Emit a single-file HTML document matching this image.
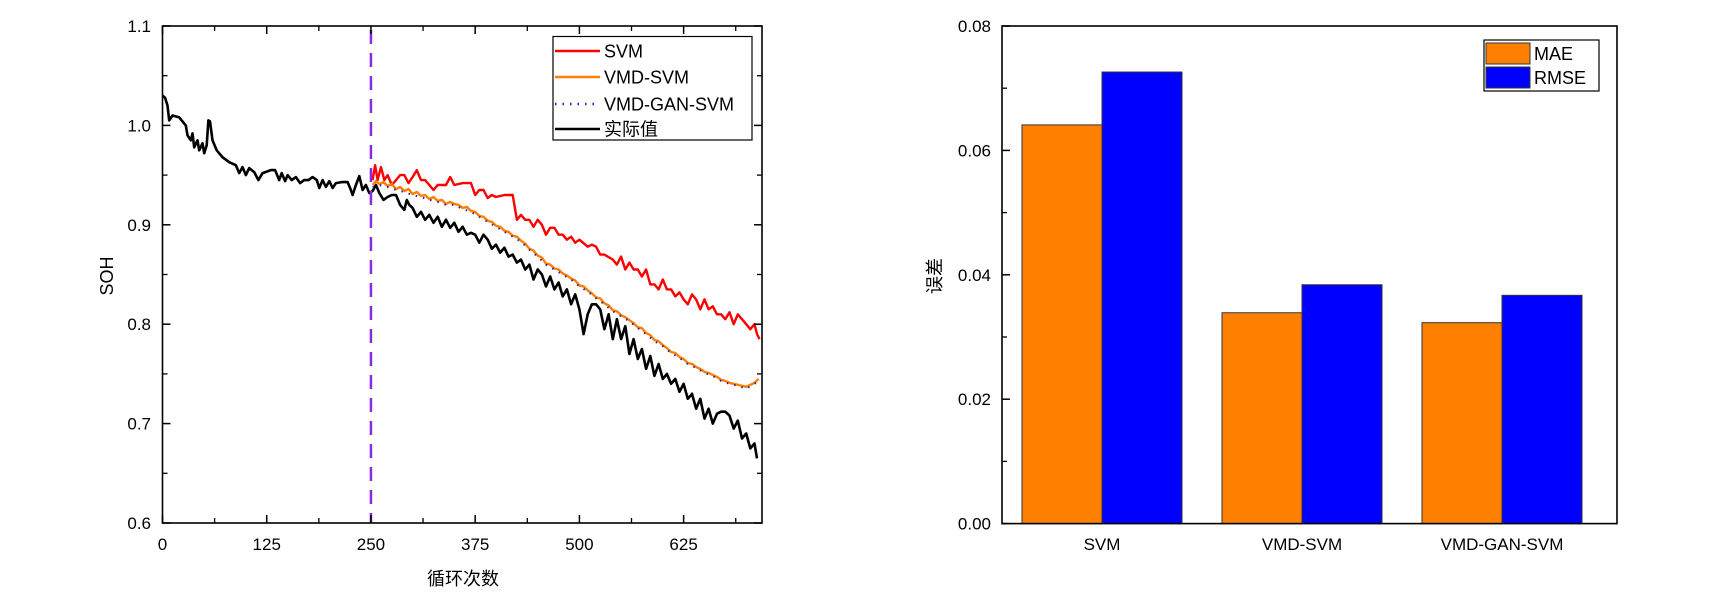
<!DOCTYPE html>
<html><head><meta charset="utf-8"><style>
html,body{margin:0;padding:0;background:#fff;}
svg{display:block;font-family:"Liberation Sans","Noto Sans CJK SC",sans-serif;}
</style></head><body>
<svg id="c" width="1733" height="613" viewBox="0 0 1733 613" xmlns="http://www.w3.org/2000/svg">
<g id="left"></g>
<g id="right"></g>
</svg>
<script>
// ---- left chart data ----
const actualC=[0,3,6,8,12,20,28,30,34,36,38,42,44,48,50,53,55,57,60,65,72,80,88,92,96,100,104,110,115,120,130,135,140,143,147,150,155,160,165,170,175,180,185,188,192,196,200,204,208,215,222,225,228,232,236,240,244,248,252,256,260,265,270,275,280,285,290,293,296,300,305,310,315,320,325,330,335,340,345,350,355,360,365,370,375,380,385,390,395,400,405,410,415,420,425,430,435,440,445,450,455,460,465,470,475,480,485,490,495,500,505,510,515,520,525,530,535,540,545,550,555,560,565,570,575,580,585,590,595,600,605,610,615,620,625,630,635,640,645,650,655,660,665,670,675,680,685,690,695,700,705,710,713];
const actualV=[1.03,1.028,1.02,1.005,1.01,1.008,1.0,0.99,0.985,0.992,0.978,0.985,0.975,0.982,0.972,0.98,1.005,1.004,0.985,0.975,0.968,0.963,0.96,0.952,0.958,0.95,0.957,0.953,0.945,0.952,0.955,0.955,0.945,0.952,0.944,0.95,0.945,0.948,0.942,0.945,0.945,0.948,0.945,0.937,0.945,0.938,0.944,0.937,0.942,0.943,0.943,0.937,0.93,0.94,0.949,0.935,0.94,0.932,0.934,0.94,0.932,0.925,0.928,0.93,0.93,0.92,0.915,0.925,0.92,0.917,0.908,0.913,0.905,0.91,0.902,0.908,0.898,0.905,0.897,0.902,0.893,0.898,0.89,0.892,0.89,0.882,0.89,0.885,0.876,0.88,0.872,0.877,0.868,0.87,0.862,0.865,0.855,0.86,0.845,0.855,0.85,0.838,0.848,0.835,0.842,0.828,0.835,0.82,0.83,0.815,0.79,0.81,0.82,0.82,0.815,0.795,0.81,0.785,0.805,0.785,0.798,0.77,0.785,0.765,0.775,0.755,0.768,0.748,0.76,0.745,0.75,0.74,0.745,0.732,0.74,0.725,0.73,0.715,0.725,0.705,0.715,0.7,0.71,0.712,0.712,0.708,0.695,0.703,0.685,0.69,0.675,0.68,0.665];
const svmC=[252,255,258,262,266,270,275,280,285,290,295,300,305,310,315,320,325,330,340,345,350,360,370,375,380,385,390,395,400,410,420,425,430,435,440,445,450,455,460,465,470,475,480,485,490,495,500,510,515,520,525,530,540,545,550,555,560,565,570,575,580,585,590,595,600,605,610,615,620,625,630,635,640,645,650,655,660,665,670,675,680,685,690,695,700,705,710,713,716];
const svmV=[0.945,0.96,0.945,0.958,0.945,0.95,0.94,0.945,0.95,0.95,0.942,0.948,0.955,0.945,0.945,0.94,0.935,0.94,0.94,0.948,0.94,0.942,0.942,0.93,0.935,0.935,0.927,0.93,0.928,0.93,0.93,0.905,0.91,0.905,0.905,0.898,0.905,0.9,0.89,0.897,0.897,0.89,0.89,0.885,0.888,0.882,0.885,0.878,0.88,0.878,0.87,0.87,0.865,0.86,0.868,0.855,0.862,0.855,0.855,0.848,0.855,0.84,0.84,0.835,0.845,0.835,0.835,0.828,0.832,0.825,0.82,0.83,0.825,0.815,0.825,0.815,0.818,0.81,0.81,0.805,0.812,0.8,0.81,0.805,0.8,0.795,0.8,0.79,0.785];
const vmdC=[252,256,260,265,270,275,280,285,290,295,300,305,310,315,320,325,330,335,340,345,350,355,360,365,370,375,380,385,390,395,400,405,410,415,420,425,430,435,440,445,450,455,460,465,470,475,480,485,490,495,500,505,510,515,520,525,530,535,540,545,550,555,560,565,570,575,580,585,590,595,600,605,610,615,620,625,630,635,640,645,650,655,660,665,670,675,680,685,690,695,700,705,710,715];
const vmdV=[0.94,0.944,0.941,0.943,0.939,0.941,0.936,0.938,0.934,0.936,0.931,0.933,0.929,0.93,0.926,0.928,0.924,0.925,0.921,0.923,0.921,0.92,0.917,0.918,0.914,0.913,0.909,0.908,0.904,0.903,0.899,0.898,0.894,0.893,0.889,0.888,0.884,0.881,0.876,0.874,0.869,0.867,0.861,0.86,0.856,0.855,0.851,0.849,0.846,0.844,0.839,0.838,0.834,0.831,0.827,0.826,0.821,0.819,0.814,0.813,0.809,0.807,0.804,0.801,0.797,0.796,0.791,0.789,0.784,0.783,0.779,0.776,0.772,0.771,0.767,0.765,0.761,0.76,0.757,0.755,0.752,0.751,0.749,0.747,0.744,0.743,0.741,0.74,0.739,0.738,0.737,0.739,0.741,0.745];
const ganC=[252,260,270,280,290,300,310,320,330,340,350,360,370,380,390,400,410,420,430,440,450,460,470,480,490,500,510,520,530,540,550,560,570,580,590,600,610,620,630,640,650,660,670,680,690,700,710,715];
const ganV=[0.938,0.94,0.938,0.935,0.933,0.93,0.928,0.925,0.923,0.92,0.92,0.916,0.913,0.908,0.903,0.898,0.893,0.888,0.883,0.875,0.868,0.86,0.855,0.85,0.845,0.838,0.833,0.826,0.82,0.813,0.808,0.803,0.796,0.79,0.783,0.778,0.771,0.766,0.76,0.756,0.751,0.748,0.743,0.74,0.738,0.735,0.74,0.743];
const xTicksL=[0,125,250,375,500,625];
const yTicksL=[0.6,0.7,0.8,0.9,1.0,1.1];
const splitCycle=250;
// ---- right chart data ----
const categories=["SVM","VMD-SVM","VMD-GAN-SVM"];
const maeV=[0.0641,0.0339,0.0323];
const rmseV=[0.0726,0.0384,0.0367];
const yTicksR=[0.00,0.02,0.04,0.06,0.08];

const NS="http://www.w3.org/2000/svg";
function mk(parent,tag,attrs,text){const e=document.createElementNS(NS,tag);for(const k in attrs)e.setAttribute(k,attrs[k]);if(text!==undefined)e.textContent=text;parent.appendChild(e);return e;}

const L={x0:162.5,x1:762,y0:523,y1:26,cmin:0,cmax:719,vmin:0.6,vmax:1.1};
const lx=c=>L.x0+(c-L.cmin)/(L.cmax-L.cmin)*(L.x1-L.x0);
const ly=v=>L.y0-(v-L.vmin)/(L.vmax-L.vmin)*(L.y0-L.y1);
const gl=document.getElementById('left');
function series(C,V,color,w,dash,name){
  let d="";C.forEach((c,i)=>{d+=(i?"L":"M")+lx(c).toFixed(1)+","+ly(V[i]).toFixed(1);});
  const p=mk(gl,'path',{d:d,fill:'none',stroke:color,'stroke-width':w,'stroke-linejoin':'round'});
  if(dash)p.setAttribute('stroke-dasharray',dash);
  
  
}
series(actualC,actualV,'#000',2.6,null,'actual-line');
series(svmC,svmV,'#ff0000',2.4,null,'svm-line');
series(vmdC,vmdV,'#ff8000',2.4,null,'vmd-svm-line');
series(ganC,ganV,'#2020c0',2,'1.5 6','vmd-gan-svm-line');
const split=mk(gl,'line',{x1:lx(splitCycle),x2:lx(splitCycle),y1:L.y1+4,y2:L.y0,stroke:'#8a2be2','stroke-width':2.5,'stroke-dasharray':'14 9'});


const frameL=mk(gl,'rect',{x:L.x0,y:L.y1,width:L.x1-L.x0,height:L.y0-L.y1,fill:'none',stroke:'#000','stroke-width':1.6});


xTicksL.forEach((t,i)=>{
  const x=lx(t);
  mk(gl,'line',{x1:x,x2:x,y1:L.y0,y2:L.y0-8,stroke:'#000','stroke-width':1.5});
  mk(gl,'line',{x1:x,x2:x,y1:L.y1,y2:L.y1+8,stroke:'#000','stroke-width':1.5});
  const xm=lx(t+62.5);
  if(xm<L.x1){mk(gl,'line',{x1:xm,x2:xm,y1:L.y0,y2:L.y0-5,stroke:'#000','stroke-width':1.3});mk(gl,'line',{x1:xm,x2:xm,y1:L.y1,y2:L.y1+5,stroke:'#000','stroke-width':1.3});}
  const tl=mk(gl,'text',{x:x,y:550,'font-size':17,'text-anchor':'middle'},String(t));
  
  
});
yTicksL.forEach((t,i)=>{
  const y=ly(t);
  mk(gl,'line',{x1:L.x0,x2:L.x0+8,y1:y,y2:y,stroke:'#000','stroke-width':1.5});
  mk(gl,'line',{x1:L.x1,x2:L.x1-8,y1:y,y2:y,stroke:'#000','stroke-width':1.5});
  if(i<yTicksL.length-1){const ym=ly(t+0.05);mk(gl,'line',{x1:L.x0,x2:L.x0+5,y1:ym,y2:ym,stroke:'#000','stroke-width':1.3});mk(gl,'line',{x1:L.x1,x2:L.x1-5,y1:ym,y2:ym,stroke:'#000','stroke-width':1.3});}
  const tl=mk(gl,'text',{x:151,y:y+6,'font-size':17,'text-anchor':'end'},t.toFixed(1));
  
  
});
const xt=mk(gl,'text',{x:463,y:585,'font-size':18,'text-anchor':'middle'},'循环次数');


const yt=mk(gl,'text',{x:0,y:0,'font-size':18,'text-anchor':'middle',transform:'translate(113,276) rotate(-90)'},'SOH');


const lg=mk(gl,'g',{});


mk(lg,'rect',{x:553,y:36.5,width:199,height:103.5,fill:'#fff',stroke:'#000','stroke-width':1.2});
const legItems=[['SVM','#ff0000',null,51],['VMD-SVM','#ff8000',null,77],['VMD-GAN-SVM','#2020c0','1.5 6',104],['实际值','#000',null,129]];
legItems.forEach(it=>{
  const ln=mk(lg,'line',{x1:555,x2:600,y1:it[3],y2:it[3],stroke:it[1],'stroke-width':2.4});
  if(it[2])ln.setAttribute('stroke-dasharray',it[2]);
  const t=mk(lg,'text',{x:604,y:it[3]+6.5,'font-size':18},it[0]);
  
  
});

const R={x0:1002,x1:1617,y0:523.6,y1:26,vmax:0.08};
const ry=v=>R.y0-v/R.vmax*(R.y0-R.y1);
const rcx=i=>1102+200*i;
const barW=80;
const gr=document.getElementById('right');
categories.forEach((cat,i)=>{
  const cx=rcx(i);
  const b1=mk(gr,'rect',{x:cx-barW,y:ry(maeV[i]),width:barW,height:R.y0-ry(maeV[i]),fill:'#ff8000',stroke:'#333','stroke-width':1});
  
  
  const b2=mk(gr,'rect',{x:cx,y:ry(rmseV[i]),width:barW,height:R.y0-ry(rmseV[i]),fill:'#0000ff',stroke:'#333','stroke-width':1});
  
  
  const t=mk(gr,'text',{x:cx,y:550,'font-size':17,'text-anchor':'middle'},cat);
  
  
});
const frameR=mk(gr,'rect',{x:R.x0,y:R.y1,width:R.x1-R.x0,height:R.y0-R.y1,fill:'none',stroke:'#000','stroke-width':1.6});


yTicksR.forEach((t,i)=>{
  const y=ry(t);
  mk(gr,'line',{x1:R.x0,x2:R.x0+8,y1:y,y2:y,stroke:'#000','stroke-width':1.5});
  if(i<yTicksR.length-1){const ym=ry(t+0.01);mk(gr,'line',{x1:R.x0,x2:R.x0+5,y1:ym,y2:ym,stroke:'#000','stroke-width':1.3});}
  const tl=mk(gr,'text',{x:991,y:y+6,'font-size':17,'text-anchor':'end'},t.toFixed(2));
  
  
});
const yr=mk(gr,'text',{x:0,y:0,'font-size':18,'text-anchor':'middle',transform:'translate(941,276) rotate(-90)'},'误差');


const lr=mk(gr,'g',{});


mk(lr,'rect',{x:1484,y:40,width:115,height:51,fill:'#fff',stroke:'#000','stroke-width':1.2});
[['MAE','#ff8000',43],['RMSE','#0000ff',67]].forEach(it=>{
  mk(lr,'rect',{x:1486,y:it[2],width:44,height:21,fill:it[1],stroke:'#333','stroke-width':1});
  const t=mk(lr,'text',{x:1534,y:it[2]+17,'font-size':18},it[0]);
  
  
});
</script>
</body></html>
